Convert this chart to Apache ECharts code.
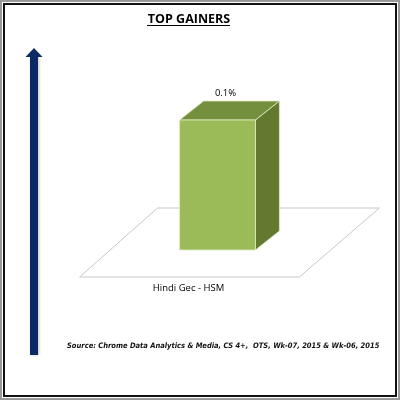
<!DOCTYPE html>
<html><head><meta charset="utf-8">
<script src="https://cdn.jsdelivr.net/npm/echarts@6/dist/echarts.min.js"></script>
<style>html,body{margin:0;padding:0;background:#fff}#c{width:400px;height:400px}</style>
</head><body><div id="c"></div>
<script>
const categories = ['Hindi Gec - HSM'];
const values = [0.1];
const valueLabels = ['0.1%'];
const titleText = 'TOP GAINERS';
const sourceText = 'Source: Chrome Data Analytics & Media, CS 4+,  OTS, Wk-07, 2015 & Wk-06, 2015';

const chart = echarts.init(document.getElementById('c'), null, {renderer: 'canvas'});
const DX = 24, DY = -19;
chart.setOption({
  animation: false,
  backgroundColor: '#fff',
  grid: {left: 146, right: 111, top: 120, bottom: 150},
  xAxis: {type: 'category', data: categories, show: false},
  yAxis: {type: 'value', min: 0, max: 0.1, show: false},
  graphic: [
    {type: 'rect', shape: {x: 4, y: 4, width: 392, height: 392}, style: {fill: 'none', stroke: '#111', lineWidth: 2}, z: 100},
    {type: 'rect', shape: {x: 0, y: 0, width: 400, height: 400}, style: {fill: 'none', stroke: '#999', lineWidth: 4}, z: 99},
    {type: 'text', x: 189, y: 19, style: {text: titleText, align: 'center', verticalAlign: 'middle',
      font: 'bold 12.5px "Open Sans", "Liberation Sans"', fill: '#000'}},
    {type: 'line', shape: {x1: 147, y1: 25.5, x2: 230, y2: 25.5}, style: {stroke: '#000', lineWidth: 1.2}},
    {type: 'rect', shape: {x: 30, y: 56, width: 8, height: 299}, style: {fill: '#0b2a63', shadowColor: 'rgba(0,0,0,0.25)', shadowBlur: 3, shadowOffsetX: 1}},
    {type: 'polygon', shape: {points: [[34, 48], [42.5, 57], [25.5, 57]]}, style: {fill: '#0b2a63'}},
    {type: 'text', x: 67, y: 346, style: {text: sourceText, verticalAlign: 'middle',
      font: 'italic bold 7.5px "DejaVu Sans Condensed", "Liberation Sans"', fill: '#111'}}
  ],
  series: [{
    type: 'custom',
    data: values.map((v, i) => [i, v]),
    renderItem: function (params, api) {
      const i = api.value(0);
      const top = api.coord([i, api.value(1)]);
      const base = api.coord([i, 0]);
      const w = api.size([1, 0])[0] * 0.53;
      const x0 = top[0] - w / 2, x1 = top[0] + w / 2;
      const yt = top[1], yb = base[1];
      const floorY0 = yb - 42, floorY1 = yb + 27;
      return {type: 'group', children: [
        {type: 'polygon', shape: {points: [[x0 - 22, floorY0], [x1 + 124, floorY0], [x1 + 44, floorY1], [x0 - 100, floorY1]]},
          style: {fill: '#fff', stroke: '#c8c8c8', lineWidth: 1}},
        {type: 'polygon', shape: {points: [[x1, yt], [x1 + DX, yt + DY], [x1 + DX, yb + DY], [x1, yb]]},
          style: {fill: '#62792f', stroke: '#dfeac2', lineWidth: 0.8}},
        {type: 'polygon', shape: {points: [[x0, yt], [x0 + DX, yt + DY], [x1 + DX, yt + DY], [x1, yt]]},
          style: {fill: '#748f3d', stroke: '#dfeac2', lineWidth: 0.8}},
        {type: 'rect', shape: {x: x0, y: yt, width: x1 - x0, height: yb - yt},
          style: {fill: '#9bbb59', stroke: '#dfeac2', lineWidth: 0.8}},
        {type: 'text', style: {text: valueLabels[i], x: top[0] + 8, y: yt + DY - 8, align: 'center', verticalAlign: 'middle',
          font: '9.5px "Open Sans", "Liberation Sans"', fill: '#000'}},
        {type: 'text', style: {text: categories[i], x: top[0] - 29, y: yb + 38, align: 'center', verticalAlign: 'middle',
          font: '9.5px "Open Sans", "Liberation Sans"', fill: '#000'}}
      ]};
    }
  }]
});
</script></body></html>
